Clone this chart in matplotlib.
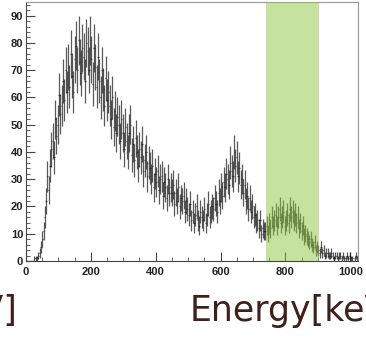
import matplotlib.pyplot as plt
import numpy as np
from matplotlib.ticker import MultipleLocator

# histogram, 4 keV bins from 0 to 1024 keV
bin_width = 4
counts_low = [0, 0, 0, 0, 0, 0, 1, 1,
              1, 2, 3, 5, 8, 11, 16, 22,
              31, 26, 35, 41, 44, 38, 52, 46,
              50, 61, 54, 57, 66, 59, 70, 62]
counts_peak = [71, 64, 76, 68, 62, 74, 79, 70,
               81, 73, 69, 78, 75, 66, 80, 77,
               70, 81, 74, 65, 78, 71, 64, 75,
               66, 60, 70, 63, 57, 67, 59, 62]
counts_slope = [57, 52, 60, 49, 55, 47, 53, 50,
                44, 52, 47, 41, 49, 44, 40, 47,
                50, 39, 43, 37, 45, 40, 35, 41,
                38, 43, 33, 37, 40, 31, 36, 34,
                30, 35, 27, 32, 29, 33, 26, 30,
                31, 24, 29, 27, 23, 30, 25, 27,
                25, 28, 21, 25, 22, 27, 20, 23,
                22, 24, 18, 22, 19, 17, 21, 15]
counts_second = [18, 14, 17, 20, 15, 13, 18, 16,
                 15, 19, 14, 17, 21, 16, 18, 20,
                 19, 23, 21, 18, 25, 22, 27, 24,
                 29, 27, 32, 30, 28, 36, 33, 31,
                 40, 35, 38, 31, 34, 28, 30, 25,
                 28, 22, 24, 19, 23, 18, 20, 16,
                 17, 14, 15, 12, 15, 10, 12, 11]
counts_tail = [11, 13, 10, 14, 12, 16, 13, 15,
               17, 13, 16, 19, 14, 16, 18, 13,
               15, 17, 14, 19, 16, 18, 15, 17,
               14, 16, 12, 14, 11, 13, 9, 10,
               9, 8, 7, 8, 6, 5, 7, 4,
               5, 4, 3, 5, 3, 4, 2, 3,
               3, 2, 2, 3, 2, 1, 2, 2,
               1, 2, 2, 1, 2, 1, 1, 2,
               1, 2, 1, 1, 0, 1, 2, 1]
window = (740, 905)   # selected energy region
x_ticks = [0, 200, 400, 600, 800, 1000]
y_ticks = [0, 10, 20, 30, 40, 50, 60, 70, 80, 90]
xlabel = "Energy[keV]"

counts = np.array(counts_low + counts_peak + counts_slope + counts_second + counts_tail,
                  dtype=float)
centers = bin_width * (np.arange(len(counts)) + 0.5)

fig = plt.figure(figsize=(3.66, 3.46), dpi=100)
ax = fig.add_axes([26 / 366, 85 / 346, 332 / 366, 259 / 346])

ax.errorbar(centers, counts, xerr=bin_width / 2, yerr=np.sqrt(counts),
            fmt='none', ecolor='#1a1a1a', elinewidth=0.9, alpha=0.72, zorder=2)

# green band drawn over the histogram, as in the slide
ax.axvspan(window[0], window[1], color='#8cc63f', alpha=0.5, lw=0, zorder=3)

ax.set_xlim(0, 1024)
ax.set_ylim(0, 95)
ax.set_xticks(x_ticks)
ax.set_yticks(y_ticks)
ax.xaxis.set_minor_locator(MultipleLocator(50))
ax.yaxis.set_minor_locator(MultipleLocator(2))
ax.tick_params(which='both', direction='in', top=False, right=False, color='#444444')
ax.tick_params(which='major', length=6.5, width=0.8)
ax.tick_params(which='minor', length=3.2, width=0.6)
ax.tick_params(axis='y', pad=2)
ax.tick_params(axis='x', pad=4)
for lab in ax.get_xticklabels() + ax.get_yticklabels():
    lab.set_fontfamily('Liberation Sans')
    lab.set_fontweight('bold')
    lab.set_fontsize(8)
    lab.set_color('#222222')
for side in ['left', 'bottom']:
    ax.spines[side].set_color('#444444')
    ax.spines[side].set_linewidth(0.8)
for side in ['top', 'right']:
    ax.spines[side].set_color('#999999')
    ax.spines[side].set_linewidth(0.8)

# slide text, cut by the picture edges as in the reference
fig.text(190 / 366, 25 / 346, xlabel, fontsize=25, color='#402018',
         family='DejaVu Sans', ha='left', va='baseline')
fig.text(18 / 366, 25 / 346, xlabel, fontsize=25, color='#402018',
         family='DejaVu Sans', ha='right', va='baseline')

fig.savefig('out.png', dpi=100)
